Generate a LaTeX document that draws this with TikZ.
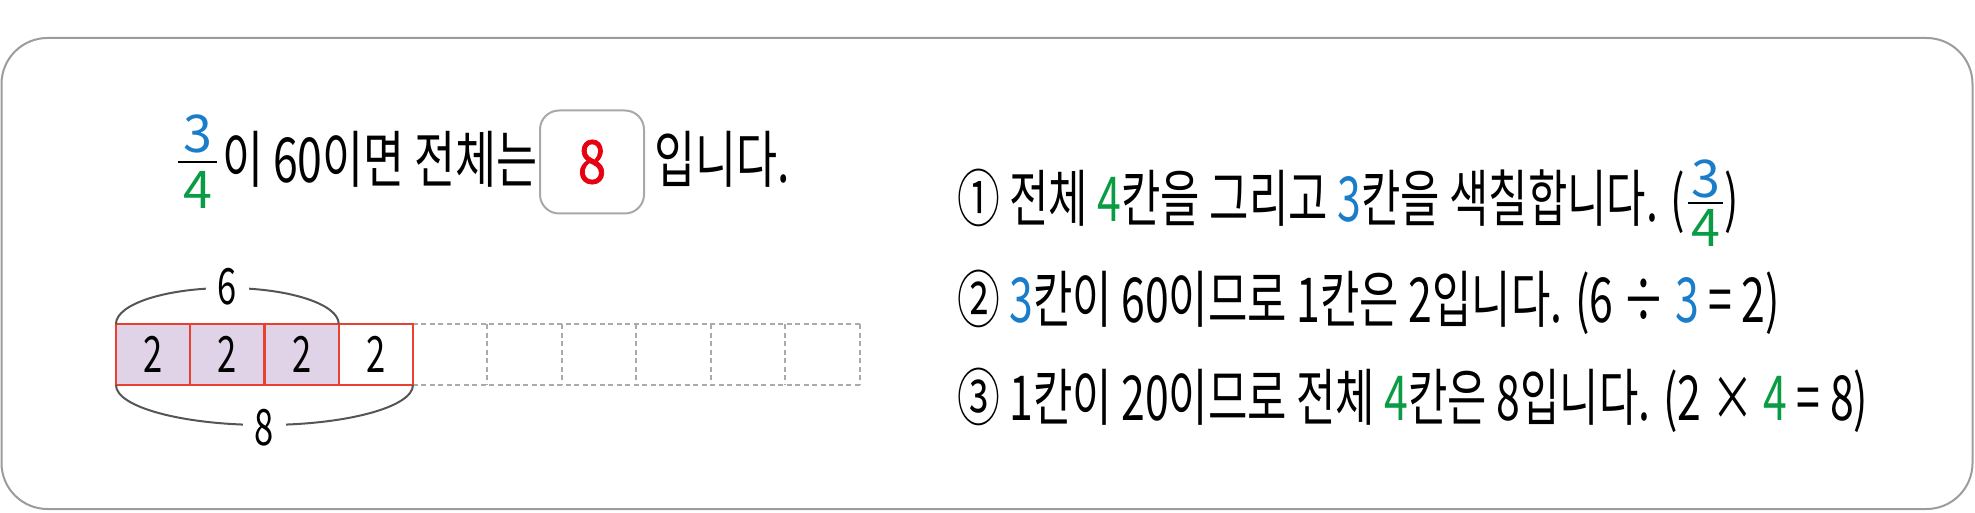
\documentclass[tikz,border=0pt]{standalone}
\usepackage{fontspec}
\setmainfont{Noto Sans CJK KR}[FakeStretch=0.69]
\newfontfamily\titlefont{Noto Sans CJK KR}[FakeStretch=0.72]
\newfontfamily\fracfont{Noto Sans CJK KR}
\newfontfamily\ansfont{Noto Sans CJK KR}[FakeStretch=0.85, FakeBold=1.2]
\usetikzlibrary{calc}
\definecolor{fblue}{HTML}{1A7DCA}
\definecolor{fgreen}{HTML}{0A9B45}
\definecolor{ansred}{HTML}{E60012}
\definecolor{cellred}{HTML}{E8412F}
\definecolor{lav}{HTML}{E1D3E7}
\definecolor{dgray}{HTML}{AAAAAA}
\definecolor{framegray}{HTML}{9C9C9C}
\definecolor{boxgray}{HTML}{A8A8A8}
\definecolor{arcgray}{HTML}{555555}
\begin{document}
\begin{tikzpicture}[x=1pt,y=-1pt,
  every node/.style={inner sep=0pt, outer sep=0pt},
  txt/.style={font=\fontsize{62}{70}\selectfont, anchor=base west},
  ttxt/.style={font=\fontsize{62}{70}\titlefont, anchor=base west},
  fracd/.style={font=\fontsize{52}{56}\fracfont, anchor=base, minimum width=#1},
  fracd/.default=33pt,
  cell/.style={draw=cellred, line width=2.2pt, minimum width=74.25pt, minimum height=61pt, font=\fontsize{50}{56}\selectfont},
  dcell/.style={minimum width=74.5pt, minimum height=61pt},
  dline/.style={draw=dgray, line width=2pt, dash pattern=on 5pt off 3.5pt},
  arcline/.style={draw=arcgray, line width=2pt},
  arclabel/.style={fill=white, inner xsep=12pt, font=\fontsize{50}{56}\selectfont},
  fbar/.style={line width=2.4pt}
]
\useasboundingbox (0,0) rectangle (1975,513);
\draw[framegray, line width=2pt, rounded corners=46pt] (1.5,38) rectangle (1972.5,509);

% title
\node[fracd=39pt, text=fblue] (t3) at (197.5,153) {3};
\node[fracd=39pt, text=fgreen] (t4) at (197.5,208) {4};
\draw[fbar] ($(t3.base west)+(0,9)$) -- ($(t3.base east)+(0,9)$);
\node[ttxt] (t1) at (222,183) {이 60이면 전체는};
\node[draw=boxgray, line width=2pt, rounded corners=19pt, minimum width=104pt, minimum height=103pt,
      font=\fontsize{60}{60}\ansfont, text=ansred] (ans) at (592,162) {8};
\node[ttxt] (t2) at (654,183) {입니다.};

% bar model
\node[cell, fill=lav] (c1) at (153.1,354.5) {2};
\node[cell, fill=lav, anchor=west] (c2) at (c1.east) {2};
\node[cell, fill=lav, anchor=west] (c3) at (c2.east) {2};
\node[cell, fill=white, anchor=west] (c4) at (c3.east) {2};
\node[dcell, anchor=west] (d1) at (c4.east) {};
\node[dcell, anchor=west] (d2) at (d1.east) {};
\node[dcell, anchor=west] (d3) at (d2.east) {};
\node[dcell, anchor=west] (d4) at (d3.east) {};
\node[dcell, anchor=west] (d5) at (d4.east) {};
\node[dcell, anchor=west] (d6) at (d5.east) {};
\draw[dline] (c4.north east) -- (d6.north east);
\draw[dline] (c4.south east) -- (d6.south east);
\foreach \d in {d1,d2,d3,d4,d5,d6} \draw[dline] (\d.north east) -- (\d.south east);
\node[cell, fill=white, anchor=west] (c4b) at (c3.east) {2};

% top brace arc
\coordinate (tp) at ($(c1.north west)!0.5!(c3.north east)+(0,-36)$);
\draw[arcline] (c1.north west) .. controls +(0,-20) and +(-61,0) .. (tp)
   .. controls +(61,0) and +(0,-20) .. (c3.north east);
\node[arclabel] (six) at ($(tp)+(0,-1)$) {6};
% bottom brace arc
\coordinate (bp) at ($(c1.south west)!0.5!(c4.south east)+(0,40)$);
\draw[arcline] (c1.south west) .. controls +(0,22) and +(-82,0) .. (bp)
   .. controls +(82,0) and +(0,22) .. (c4.south east);
\node[arclabel] (eight) at ($(bp)+(0,3)$) {8};

% explanation lines
\node[txt] (l1) at (957,222) {① 전체 \textcolor{fgreen}{4}칸을 그리고 \textcolor{fblue}{3}칸을 색칠합니다. (};
\node[fracd=35pt, anchor=base west, text=fblue] (f3) at ($(l1.base east)+(3,-25)$) {3};
\node[fracd=35pt, text=fgreen] (f4) at ($(f3.base)+(0,50)$) {4};
\draw[fbar] ($(f3.base west)+(0,6)$) -- ($(f3.base east)+(0,6)$);
\node[txt] (l1r) at ($(f3.base east |- l1.base)+(1,0)$) {)};
\node[txt] (l2) at (957,322) {② \textcolor{fblue}{3}칸이 60이므로 1칸은 2입니다. (6 ÷ \textcolor{fblue}{3} = 2)};
\node[txt] (l3) at (957,420) {③ 1칸이 20이므로 전체 \textcolor{fgreen}{4}칸은 8입니다. (2 × \textcolor{fgreen}{4} = 8)};
\end{tikzpicture}
\end{document}
